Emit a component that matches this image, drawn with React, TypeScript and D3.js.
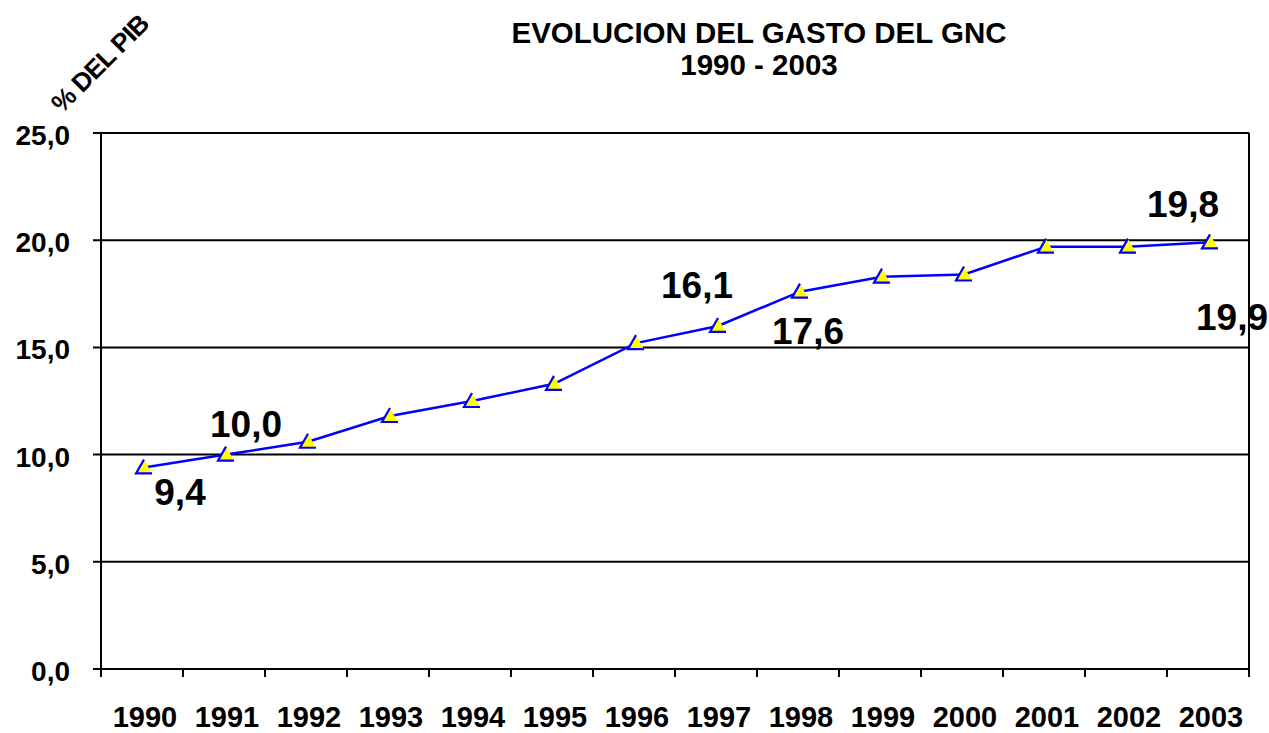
import React, { useEffect, useRef } from 'react';
import * as d3 from 'd3';

const years = ['1990', '1991', '1992', '1993', '1994', '1995', '1996', '1997', '1998', '1999', '2000', '2001', '2002', '2003'];
const gasto = [9.4, 10.0, 10.6, 11.8, 12.5, 13.3, 15.2, 16.0, 17.6, 18.3, 18.4, 19.7, 19.7, 19.9];
const yTicks = [0, 5, 10, 15, 20, 25];
const titleLines = ['EVOLUCION DEL GASTO DEL GNC', '1990 - 2003'];
// labels printed on the chart: index of point and text shown
const pointLabels = [
  { i: 0, text: '9,4', dx: 36, dy: 24 },
  { i: 1, text: '10,0', dx: 20, dy: -31 },
  { i: 7, text: '16,1', dx: -21, dy: -41 },
  { i: 8, text: '17,6', dx: 8, dy: 39 },
  { i: 12, text: '19,8', dx: 55, dy: -43 },
  { i: 13, text: '19,9', dx: 22, dy: 74 },
];

const App: React.FC = () => {
  const ref = useRef<SVGSVGElement>(null);

  useEffect(() => {
    const svg = d3.select(ref.current);
    svg.selectAll('*').remove();

    const left = 101, right = 1249, top = 133, bottom = 669;
    const font = '"Liberation Sans", Arial, sans-serif';

    const x = d3.scaleBand().domain(years).range([left, right]).padding(0);
    const y = d3.scaleLinear().domain([0, 25]).range([bottom, top]);
    const fmt = (v: number) => v.toFixed(1).replace('.', ',');

    // gridlines + y ticks
    svg.append('g').selectAll('line')
      .data(yTicks)
      .enter().append('line')
      .attr('x1', left - 8).attr('x2', right)
      .attr('y1', (d) => y(d)).attr('y2', (d) => y(d))
      .attr('stroke', '#000').attr('stroke-width', 2);

    svg.append('g').selectAll('text')
      .data(yTicks)
      .enter().append('text')
      .attr('x', 70).attr('y', (d) => y(d) + 2)
      .attr('dy', '0.36em')
      .attr('text-anchor', 'end')
      .attr('font-family', font).attr('font-weight', 'bold').attr('font-size', 28)
      .text(fmt);

    // plot frame (left + right)
    svg.append('line').attr('x1', left).attr('x2', left).attr('y1', top).attr('y2', bottom)
      .attr('stroke', '#000').attr('stroke-width', 2);
    svg.append('line').attr('x1', right).attr('x2', right).attr('y1', top).attr('y2', bottom)
      .attr('stroke', '#000').attr('stroke-width', 2);

    // x ticks at band edges
    const edges = years.map((d) => x(d) as number).concat([right]);
    svg.append('g').selectAll('line')
      .data(edges)
      .enter().append('line')
      .attr('x1', (d) => d).attr('x2', (d) => d)
      .attr('y1', bottom).attr('y2', bottom + 8)
      .attr('stroke', '#000').attr('stroke-width', 2);

    svg.append('g').selectAll('text')
      .data(years)
      .enter().append('text')
      .attr('x', (d) => (x(d) as number) + x.bandwidth() / 2 + 3)
      .attr('y', 727)
      .attr('text-anchor', 'middle')
      .attr('font-family', font).attr('font-weight', 'bold').attr('font-size', 29)
      .text((d) => d);

    // line
    const px = (i: number) => (x(years[i]) as number) + x.bandwidth() / 2 + 2;
    const line = d3.line<number>()
      .x((_, i) => px(i))
      .y((d) => y(d));
    svg.append('path')
      .datum(gasto)
      .attr('d', line)
      .attr('fill', 'none')
      .attr('stroke', '#0000ff')
      .attr('stroke-width', 2.5);

    // triangle markers
    const mk = svg.append('g').selectAll('g')
      .data(gasto)
      .enter().append('g')
      .attr('transform', (d, i) => `translate(${px(i)},${y(d)})`);
    mk.append('path')
      .attr('d', 'M0,-8 L8,6 L-8,6 Z')
      .attr('fill', '#ffff00');
    mk.append('path')
      .attr('d', 'M0,-8 L-8,6 L8,6')
      .attr('fill', 'none')
      .attr('stroke', '#0000ff')
      .attr('stroke-width', 2.2);

    // value labels
    svg.append('g').selectAll('text')
      .data(pointLabels)
      .enter().append('text')
      .attr('x', (d) => px(d.i) + d.dx)
      .attr('y', (d) => y(gasto[d.i]) + d.dy)
      .attr('dy', '0.36em')
      .attr('text-anchor', 'middle')
      .attr('font-family', font).attr('font-weight', 'bold').attr('font-size', 37)
      .text((d) => d.text);

    // title
    svg.append('g').selectAll('text')
      .data(titleLines)
      .enter().append('text')
      .attr('x', 759)
      .attr('y', (d, i) => 43 + i * 32)
      .attr('text-anchor', 'middle')
      .attr('font-family', font).attr('font-weight', 'bold').attr('font-size', 29.5)
      .text((d) => d);

    // y axis title, rotated
    svg.append('text')
      .attr('transform', 'translate(62,114) rotate(-45)')
      .attr('font-family', font).attr('font-weight', 'bold').attr('font-size', 26)
      .attr('letter-spacing', -0.8)
      .text('% DEL PIB');
  }, []);

  return (
    <svg ref={ref} width={1269} height={733}
      style={{ position: 'absolute', left: 0, top: 0, background: '#fff' }} />
  );
};

export default App;
